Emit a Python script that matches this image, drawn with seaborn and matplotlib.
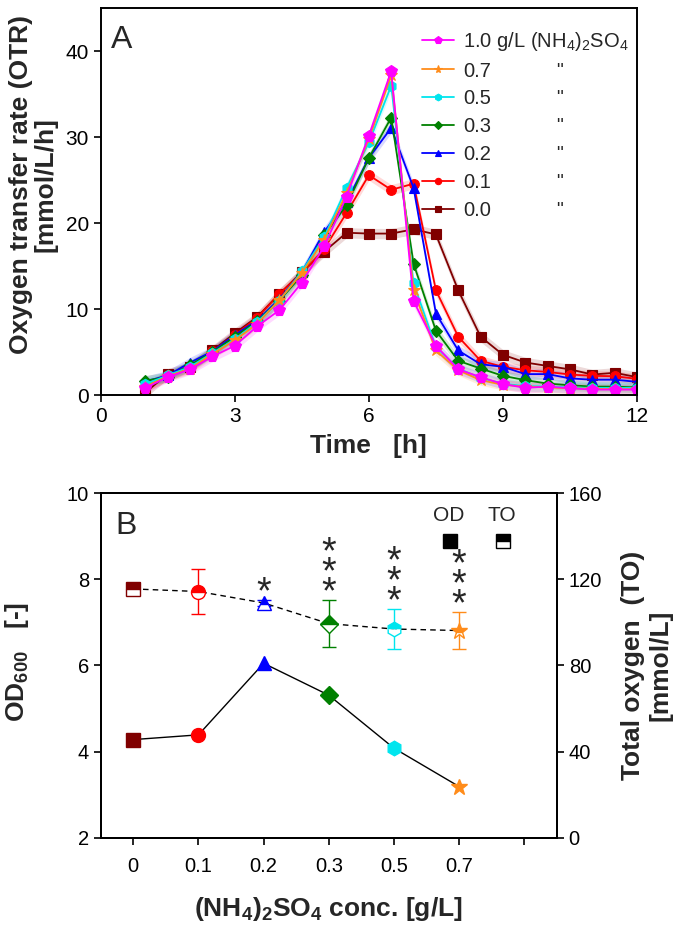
import numpy as np
import matplotlib
matplotlib.use("Agg")
import matplotlib.pyplot as plt
import seaborn as sns

# ---- panel A: OTR over time ----
time_h = [1.0, 1.5, 2.0, 2.5, 3.0, 3.5, 4.0, 4.5, 5.0, 5.5, 6.0, 6.5,
          7.0, 7.5, 8.0, 8.5, 9.0, 9.5, 10.0, 10.5, 11.0, 11.5, 12.0]

otr_00 = [0.3, 2.5, 3.3, 5.2, 7.2, 9.1, 11.8, 14.3, 16.7, 18.9, 18.8, 18.8,
          19.3, 18.7, 12.2, 6.8, 4.7, 3.8, 3.4, 3.0, 2.4, 2.6, 2.1]
otr_01 = [0.9, 2.3, 3.2, 5.1, 7.0, 9.0, 11.8, 14.2, 17.0, 21.2, 25.6, 23.9,
          24.6, 12.2, 6.8, 4.0, 3.3, 2.9, 2.7, 2.4, 2.25, 2.2, 1.9]
otr_02 = [1.6, 2.3, 3.8, 5.1, 7.0, 8.7, 11.2, 14.3, 19.0, 22.5, 27.6, 31.1,
          24.1, 9.5, 5.2, 3.6, 3.3, 2.45, 2.45, 1.95, 1.8, 1.8, 1.55]
otr_03 = [1.7, 2.1, 3.5, 5.0, 6.8, 8.6, 11.0, 14.0, 18.6, 22.1, 27.6, 32.3,
          15.3, 7.5, 4.0, 3.1, 2.25, 1.75, 1.35, 1.15, 1.0, 1.0, 0.9]
otr_05 = [1.3, 2.3, 3.3, 4.9, 6.5, 8.5, 11.0, 14.4, 18.4, 24.1, 29.4, 36.0,
          13.0, 5.6, 3.1, 2.0, 1.35, 1.05, 1.0, 0.9, 0.85, 0.85, 0.85]
otr_07 = [1.0, 2.2, 3.1, 4.8, 6.4, 8.3, 11.1, 14.2, 18.1, 23.5, 29.8, 37.2,
          12.2, 5.2, 2.9, 1.75, 1.2, 1.0, 0.9, 0.8, 0.75, 0.7, 0.7]
otr_10 = [0.85, 2.1, 3.0, 4.5, 5.75, 8.0, 9.9, 13.1, 17.3, 23.1, 30.2, 37.7,
          10.95, 5.75, 3.0, 2.1, 1.3, 0.85, 1.0, 0.8, 0.65, 0.65, 0.65]
otr_band = 0.6  # half width of the shaded replicate band

series_labels = ['0.0', '0.1', '0.2', '0.3', '0.5', '0.7',
                 r'1.0 g/L (NH$_\mathrm{4}$)$_\mathrm{2}$SO$_\mathrm{4}$']
series_values = [otr_00, otr_01, otr_02, otr_03, otr_05, otr_07, otr_10]

# ---- panel B: OD600 and total oxygen ----
conc_labels = ['0', '0.1', '0.2', '0.3', '0.5', '0.7']
od600 = [4.28, 4.39, 6.05, 5.31, 4.08, 3.19]
total_o2 = [115.5, 114.3, 109.0, 99.4, 96.9, 96.2]
total_o2_err = [2.0, 10.3, 1.2, 11.0, 9.2, 8.7]
signif = ['', '', '*', '***', '***', '***']

colors = ['#800000', '#ff0000', '#0000ff', '#008000', '#00e5ee', '#ff8c1a', '#ff00ff']
markers = ['s', 'o', '^', 'D', 'h', '*', 'p']
msizes = [6.5, 7, 7.5, 6, 7.5, 9, 8.5]

sns.set_theme(style='ticks')
plt.rcParams['font.family'] = ['Liberation Sans', 'DejaVu Sans']
plt.rcParams['mathtext.fontset'] = 'custom'
plt.rcParams['mathtext.rm'] = 'Liberation Sans'
plt.rcParams['mathtext.bf'] = 'Liberation Sans:bold'
plt.rcParams['axes.linewidth'] = 1.4
plt.rcParams['axes.edgecolor'] = 'black'

fig = plt.figure(figsize=(6.85, 9.32), dpi=100)
ax = fig.add_axes([0.147, 0.576, 0.783, 0.415])
axb = fig.add_axes([0.147, 0.101, 0.666, 0.370])

# panel A
t = np.array(time_h)
for vals, lab, c, m, ms in zip(series_values, series_labels, colors, markers, msizes):
    v = np.array(vals)
    ax.fill_between(t, v - otr_band, v + otr_band, color=c, alpha=0.15, lw=0)
    sns.lineplot(x=t, y=v, ax=ax, color=c, marker=m, markersize=ms,
                 markeredgecolor=c, markeredgewidth=0.8, linewidth=1.3, label=lab)

ax.set_xlim(0, 12)
ax.set_ylim(0, 45)
ax.set_xticks([0, 3, 6, 9, 12])
ax.set_yticks([0, 10, 20, 30, 40])
ax.tick_params(direction='out', length=5, width=1.2, labelsize=15, colors='black')
ax.set_xlabel('Time   [h]', fontsize=19, fontweight='bold')
ax.set_ylabel('Oxygen transfer rate (OTR)\n[mmol/L/h]', fontsize=19,
              fontweight='bold', linespacing=1.05)
ax.xaxis.set_label_coords(0.5, -0.1)
ax.yaxis.set_label_coords(-0.08, 0.545)
ax.text(0.02, 0.958, 'A', transform=ax.transAxes, fontsize=23, va='top', ha='left')

handles, labels = ax.get_legend_handles_labels()
leg = ax.legend(handles[::-1], labels[::-1], loc='upper left',
                bbox_to_anchor=(0.599, 0.945), frameon=False, fontsize=14.5,
                handlelength=1.6, handletextpad=0.45, labelspacing=0.44,
                borderpad=0, borderaxespad=0, markerscale=0.65)

fig.canvas.draw()
inv = ax.transAxes.inverted()
for txt in leg.get_texts()[1:]:
    bb = txt.get_window_extent()
    yc = inv.transform((0, (bb.y0 + bb.y1) / 2))[1]
    ax.text(0.855, yc, '"', transform=ax.transAxes, fontsize=14,
            ha='center', va='center')

# panel B
pos = np.arange(len(conc_labels))
ax2 = axb.twinx()
sns.lineplot(x=pos, y=od600, ax=axb, color='black', linewidth=1.0)
sns.lineplot(x=pos, y=total_o2, ax=ax2, color='black', linewidth=1.0)
ax2.lines[0].set_dashes([4, 3])

for i in pos:
    c, m, ms = colors[i], markers[i], msizes[i] + 3
    axb.plot(i, od600[i], marker=m, color=c, markersize=ms, mec=c, zorder=5)
    ax2.errorbar(i, total_o2[i], yerr=total_o2_err[i], fmt='none', ecolor=c,
                 elinewidth=1, capsize=5, capthick=1, zorder=3)
    ax2.plot(i, total_o2[i], marker=m, color=c, markersize=ms, mec=c, mfc=c,
             fillstyle='top', markerfacecoloralt='white', mew=1, zorder=5)
    if signif[i]:
        ax2.annotate('\n'.join(signif[i]), xy=(i, total_o2[i] + total_o2_err[i]),
                     xytext=(0, -8), textcoords='offset points',
                     ha='center', va='bottom', fontsize=27, linespacing=0.42)

axb.set_xlim(-0.5, 6.5)
ax2.set_xlim(-0.5, 6.5)
axb.set_ylim(2, 10)
ax2.set_ylim(0, 160)
axb.set_yticks([2, 4, 6, 8, 10])
ax2.set_yticks([0, 40, 80, 120, 160])
axb.set_xticks(range(7))
axb.set_xticklabels(conc_labels + [''])
axb.tick_params(direction='out', length=5, width=1.2, labelsize=14.5, colors='black')
axb.tick_params(axis='x', pad=9)
ax2.tick_params(direction='out', length=5, width=1.2, labelsize=14.5, colors='black')

axb.set_xlabel(r'(NH$_\mathbf{4}$)$_\mathbf{2}$SO$_\mathbf{4}$ conc. [g/L]',
               fontsize=19, fontweight='bold')
axb.set_ylabel(r'OD$_\mathbf{600}$   [-]', fontsize=19, fontweight='bold')
ax2.set_ylabel('Total oxygen  (TO)\n[mmol/L]', fontsize=19, fontweight='bold',
               linespacing=1.2)
axb.yaxis.set_label_coords(-0.152, 0.51)
ax2.yaxis.set_label_coords(1.14, 0.5)
axb.xaxis.set_label_coords(0.5, -0.165)
axb.text(0.033, 0.948, 'B', transform=axb.transAxes, fontsize=23, va='top', ha='left')

# OD / TO key
ax2.text(0.763, 0.936, 'OD', transform=ax2.transAxes, fontsize=15, ha='center', va='center')
ax2.text(0.880, 0.936, 'TO', transform=ax2.transAxes, fontsize=15, ha='center', va='center')
ax2.plot(0.765, 0.861, 's', color='black', markersize=9.5, transform=ax2.transAxes)
ax2.plot(0.882, 0.861, 's', color='black', mfc='black', markerfacecoloralt='white',
         fillstyle='top', markersize=9.5, mew=1, transform=ax2.transAxes)

fig.savefig('out.png', dpi=100)
